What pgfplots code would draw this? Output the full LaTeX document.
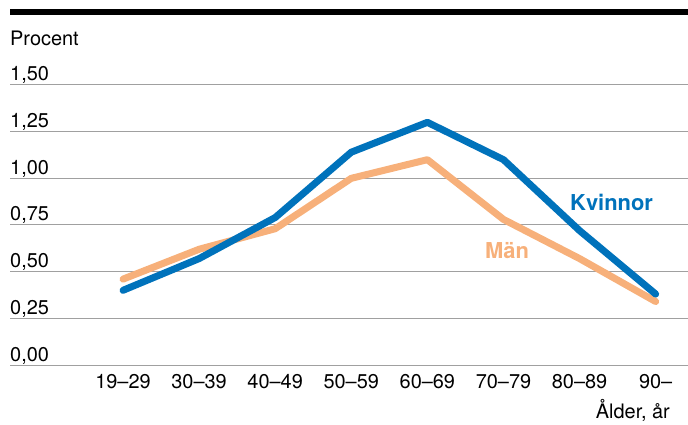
\documentclass[border=0pt]{standalone}
\usepackage{pgfplots}
\pgfplotsset{compat=1.18}
\usepackage{fontspec}
\setmainfont{TeX Gyre Heros}
\definecolor{kblue}{RGB}{0,114,187}
\definecolor{morange}{RGB}{247,176,122}
\definecolor{gridgray}{RGB}{160,160,160}
\begin{document}
\begin{tikzpicture}
  \fontsize{20}{24}\selectfont
  \path[use as bounding box] (-10bp,-60bp) rectangle (678bp,365bp);
  \begin{axis}[
    scale only axis,
    width=678bp, height=280bp,
    at={(0,0)}, anchor=south west,
    xmin=-1.485, xmax=7.425,
    ymin=0, ymax=1.5,
    axis line style={draw=none},
    tick style={draw=none},
    ytick={0,0.25,...,1.5},
    ymajorgrids,
    major grid style={line width=1bp, gridgray},
    xtick={0,...,7},
    xticklabels={19–29,30–39,40–49,50–59,60–69,70–79,80–89,90–},
    xticklabel style={anchor=base, inner sep=0pt, yshift=-23bp},
    yticklabel style={anchor=base west, inner sep=0pt, yshift=4bp},
    /pgf/number format/.cd, fixed, fixed zerofill, precision=2, use comma, assume math mode=true,
    /pgfplots/.cd,
    clip=false,
  ]
    \addplot[morange, line width=7bp, line cap=round, line join=round] coordinates {
      (0,0.46) (1,0.62) (2,0.73) (3,1.00) (4,1.10) (5,0.78) (6,0.57) (7,0.34)
    };
    \addplot[kblue, line width=7bp, line cap=round, line join=round] coordinates {
      (0,0.40) (1,0.57) (2,0.79) (3,1.14) (4,1.30) (5,1.10) (6,0.72) (7,0.38)
    };
  \end{axis}
  \fill[black] (0bp,350bp) rectangle (678bp,356bp);
  \node[anchor=base west, inner sep=0pt] at (0bp,319bp) {Procent};
  \node[anchor=base east, inner sep=0pt] at (660bp,-53bp) {Ålder, år};
  \node[anchor=base west, inner sep=0pt, kblue, font=\fontsize{22}{26}\selectfont\bfseries] at (560bp,154bp) {Kvinnor};
  \node[anchor=base west, inner sep=0pt, morange, font=\fontsize{22}{26}\selectfont\bfseries] at (475bp,106bp) {Män};
\end{tikzpicture}
\end{document}
